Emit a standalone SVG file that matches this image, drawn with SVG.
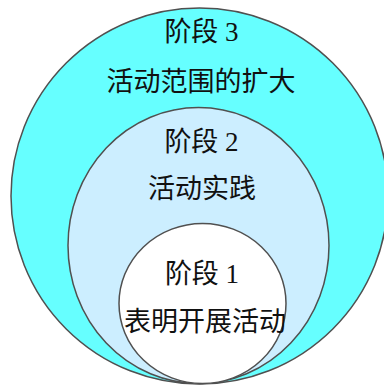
<svg xmlns="http://www.w3.org/2000/svg" width="384" height="385" viewBox="0 0 384 385">
<style>
.ring{stroke:#505050;stroke-width:1.5}
.t{font-family:"Liberation Serif","Noto Sans CJK SC",serif;font-size:27px;fill:#111;text-anchor:middle}
</style>
<rect width="384" height="385" fill="#ffffff"/>
<g id="stage3">
<ellipse class="ring" cx="199.5" cy="196" rx="188.5" ry="188" fill="#66FFFF"/>
<text class="t" x="201.5" y="41">阶段 3</text>
<text class="t" x="201" y="91">活动范围的扩大</text>
</g>
<g id="stage2">
<ellipse class="ring" cx="198.5" cy="245.5" rx="130.5" ry="138" fill="#CCEEFF"/>
<text class="t" x="201.5" y="151">阶段 2</text>
<text class="t" x="202" y="198">活动实践</text>
</g>
<g id="stage1">
<ellipse class="ring" cx="202.5" cy="303.5" rx="83.5" ry="80" fill="#ffffff"/>
<text class="t" x="202" y="283">阶段 1</text>
<text class="t" x="205" y="331">表明开展活动</text>
</g>
<g id="connectors"/>
</svg>
